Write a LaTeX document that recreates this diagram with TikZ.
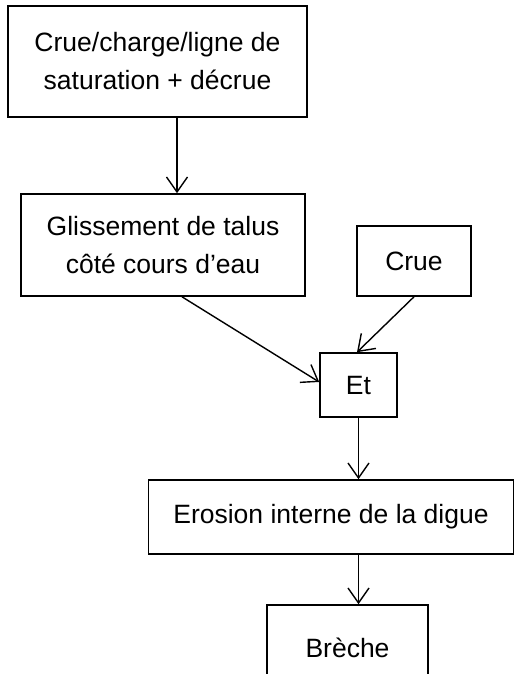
\documentclass[tikz,border=0pt]{standalone}
\usepackage{fontspec}
\setmainfont{Liberation Sans}
\usetikzlibrary{arrows.meta,calc}
\begin{document}
\begin{tikzpicture}[x=1pt,y=-1pt,
  box/.style={draw,line width=1.6pt,inner sep=0pt,align=center,font=\fontsize{26.5}{38}\selectfont},
  conn/.style={line width=1.4pt,-{Straight Barb[length=15pt,width=21pt,line width=1.4pt]}}]
\useasboundingbox (0,0) rectangle (515,674);
\clip (0,0) rectangle (515,674);
\fill[white] (0,0) rectangle (515,674);
\node[box,minimum width=299pt,minimum height=111pt] (b1) at (157.5,61.5) {Crue/charge/ligne de\\saturation + décrue};
\node[box,minimum width=284pt,minimum height=102pt] (b2) at (163,245) {Glissement de talus\\côté cours d’eau};
\node[box,minimum width=114pt,minimum height=70pt] (crue) at (414,261) {Crue};
\node[box,minimum width=77pt,minimum height=64pt] (et) at (358.5,385) {Et};
\node[box,minimum width=365pt,minimum height=74pt] (ero) at (331,517) {Erosion interne de la digue};
\node[box,minimum width=161pt,minimum height=86pt] (br) at (347.5,648) {Brèche};
\coordinate (a1) at ($(b1.south)+(19.5,0)$);
\coordinate (a2) at ($(b2.south)+(19,0)$);
\draw[conn] (a1) -- (a1 |- b2.north);
\draw[conn] (a2) -- ($(et.west)+(0,-3)$);
\draw[conn] (crue.south) -- ($(et.north)+(-1.5,0)$);
\draw[conn] (et.south) -- (et.south |- ero.north);
\draw[conn] (et.south |- ero.south) -- (et.south |- br.north);
\end{tikzpicture}
\end{document}
